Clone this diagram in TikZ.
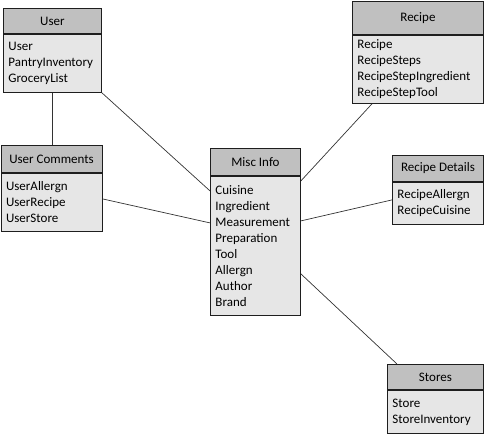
\documentclass[tikz,border=0pt]{standalone}
\usepackage{fontspec}
\setmainfont{Carlito}
\usetikzlibrary{calc}
\definecolor{hdrgray}{RGB}{192,192,192}
\definecolor{bodygray}{RGB}{230,230,230}
\definecolor{edgegray}{RGB}{30,30,30}
\begin{document}
\begin{tikzpicture}[x=1pt,y=-1pt,
  hdr/.style={draw=edgegray, fill=hdrgray, line width=0.9pt, anchor=north west, inner sep=0pt, font=\fontsize{13}{15}\selectfont},
  bdy/.style={draw=edgegray, fill=bodygray, line width=0.9pt, anchor=north west, inner xsep=5pt, inner ysep=0pt, align=left, font=\fontsize{13}{16}\selectfont},
  link/.style={draw=black!80, line width=0.7pt}]
\useasboundingbox (0,0) rectangle (484,434);
% User
\node[hdr, minimum width=98pt, minimum height=25pt] (userH) at (3,8) {User};
\node[bdy, text width=88pt, minimum height=58pt] (userB) at (userH.south west) {User\\PantryInventory\\GroceryList};
% User Comments
\node[hdr, minimum width=101pt, minimum height=27pt] (ucH) at (0.6,145) {User Comments};
\node[bdy, text width=91pt, minimum height=58pt] (ucB) at (ucH.south west) {UserAllergn\\UserRecipe\\UserStore};
% Recipe
\node[hdr, minimum width=131pt, minimum height=33pt] (recH) at (352,1) {Recipe};
\node[bdy, text width=121pt, minimum height=68pt] (recB) at (recH.south west) {Recipe\\RecipeSteps\\RecipeStepIngredient\\RecipeStepTool};
% Misc Info
\node[hdr, minimum width=90pt, minimum height=27pt] (miscH) at (210,148) {Misc Info};
\node[bdy, text width=80pt, minimum height=139pt] (miscB) at (miscH.south west) {Cuisine\\Ingredient\\Measurement\\Preparation\\Tool\\Allergn\\Author\\Brand};
% Recipe Details
\node[hdr, minimum width=91pt, minimum height=26pt] (rdH) at (392,155) {Recipe Details};
\node[bdy, text width=81pt, minimum height=42pt] (rdB) at (rdH.south west) {RecipeAllergn\\RecipeCuisine};
% Stores
\node[hdr, minimum width=96pt, minimum height=25pt] (stH) at (387,364) {Stores};
\node[bdy, text width=86pt, minimum height=43pt] (stB) at (stH.south west) {Store\\StoreInventory};
% connectors
\draw[link] (userB.south) -- (userB.south |- ucH.north);
\draw[link] (userB.south east) -- ($(miscB.north west)+(0,15)$);
\draw[link] ($(ucB.north east)+(0,26)$) -- ($(miscB.north west)+(0,47)$);
\draw[link] ($(recB.south west)+(20,0)$) -- ($(miscB.north east)+(0,5)$);
\draw[link] ($(rdB.north west)+(0,18)$) -- ($(miscB.north east)+(0,45)$);
\draw[link] ($(stH.north west)+(10,0)$) -- ($(miscB.north east)+(0,98)$);
\end{tikzpicture}
\end{document}
